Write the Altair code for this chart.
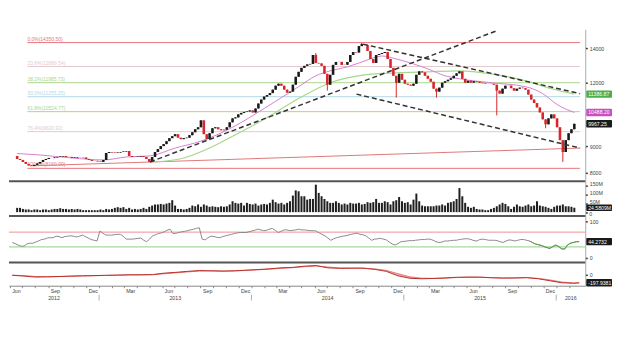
import altair as alt
import pandas as pd

FONT = "Liberation Sans"

# ---------------- data ----------------
week_start = "2012-06-07"
closes = [
    8511, 8473, 8398, 8324, 8269, 8250, 8287, 8342, 8398, 8473,
    8511, 8549, 8545, 8568, 8587, 8606, 8625, 8587, 8590, 8549,
    8568, 8587, 8580, 8568, 8511, 8473, 8436, 8440, 8417, 8398,
    8473, 8741, 8780, 8760, 8741, 8760, 8780, 8800, 8819, 8625,
    8587, 8590, 8606, 8625, 8587, 8511, 8398, 8587, 8780, 8898,
    9017, 9098, 9220, 9344, 9427, 9511, 9364, 9302, 9344, 9364,
    9469, 9596, 9725, 9812, 10122, 9511, 9302, 9554, 9768, 9812,
    9725, 9682, 9703, 9812, 10032, 10212, 10258, 10395, 10465, 10512,
    10535, 10582, 10488, 10676, 10916, 11112, 11261, 11337, 11438, 11617,
    11825, 11931, 11825, 11617, 11463, 11514, 11878, 12308, 12585, 12810,
    12925, 13011, 13040, 13572, 13098, 13069, 12925, 12473, 11878, 12418,
    12982, 13156, 13160, 12982, 12990, 13156, 13572, 13754, 13724, 14126,
    14252, 14189, 13816, 13333, 13098, 13572, 13633, 13693, 13754, 13333,
    12810, 12363, 11984, 12473, 12145, 11931, 11878, 11825, 11931, 12418,
    12612, 12556, 12363, 12199, 12037, 11669, 11514, 11721, 11984, 12064,
    12145, 12226, 12363, 12500, 12612, 12199, 11984, 12091, 11990, 12064,
    12037, 11984, 11957, 11931, 11935, 11925, 11878, 11566, 11412, 11669,
    11825, 11830, 11695, 11566, 11669, 11721, 11695, 11617, 11362, 11112,
    10940, 10724, 10488, 10167, 9943, 10212, 10395, 10212, 9812, 9261,
    8780, 9261, 9554, 9725, 9967.25,
]
first_open = 8625
wick_lows = {108: 11566, 132: 11211, 146: 11211, 167: 10349, 184: 9768, 190: 8398}
wick_highs = {104: 13693, 120: 14316}

volumes_m = [
    24, 24, 18, 15, 15, 11, 15, 15, 11, 15,
    15, 11, 15, 18, 18, 22, 18, 18, 15, 18,
    15, 18, 15, 11, 11, 11, 11, 11, 11, 15,
    11, 18, 15, 18, 24, 28, 24, 28, 18, 24,
    15, 18, 15, 18, 24, 18, 30, 37, 43, 43,
    46, 43, 48, 52, 67, 37, 18, 18, 15, 18,
    24, 37, 33, 43, 30, 43, 37, 30, 33, 30,
    28, 33, 30, 33, 43, 61, 52, 48, 52, 37,
    52, 46, 43, 48, 37, 43, 46, 43, 52, 70,
    56, 48, 52, 43, 52, 61, 93, 122, 117, 89,
    89, 70, 74, 74, 154, 108, 89, 74, 61, 52,
    52, 61, 52, 43, 48, 43, 52, 48, 48, 52,
    43, 46, 56, 52, 56, 74, 52, 52, 61, 56,
    43, 61, 67, 85, 61, 52, 56, 43, 70, 104,
    61, 37, 33, 33, 33, 33, 37, 37, 43, 37,
    52, 56, 61, 74, 135, 89, 52, 30, 24, 30,
    18, 15, 15, 11, 11, 18, 24, 33, 43, 52,
    46, 33, 18, 30, 43, 33, 30, 37, 43, 33,
    37, 61, 37, 33, 30, 24, 18, 30, 37, 37,
    43, 33, 33, 30, 24.5809,
]

rsi = [
    42, 39, 35, 32, 32, 38, 40, 40, 43, 46,
    50, 51, 54, 55, 55, 59, 58, 55, 58, 59,
    60, 59, 57, 59, 62, 58, 54, 50, 48, 46,
    73, 67, 62, 62, 62, 63, 64, 64, 59, 51,
    51, 51, 52, 53, 54, 48, 44, 51, 60, 63,
    66, 68, 71, 75, 78, 66, 67, 69, 71, 72,
    74, 76, 78, 80, 82, 51, 49, 55, 59, 58,
    56, 55, 58, 60, 62, 64, 66, 68, 69, 69,
    69, 71, 73, 75, 78, 76, 74, 75, 78, 80,
    75, 69, 72, 76, 76, 74, 75, 76, 78, 76,
    76, 75, 74, 74, 73, 68, 64, 60, 54, 48,
    52, 55, 57, 59, 60, 62, 64, 66, 67, 64,
    63, 60, 54, 48, 51, 52, 53, 51, 49, 43,
    38, 35, 39, 44, 45, 46, 47, 47, 48, 49,
    50, 50, 51, 51, 48, 44, 42, 43, 46, 46,
    47, 48, 48, 50, 51, 52, 52, 50, 47, 46,
    50, 51, 50, 48, 48, 48, 47, 44, 42, 46,
    49, 48, 46, 48, 50, 50, 48, 46, 42, 38,
    36, 34, 31, 28, 26, 31, 35, 31, 25, 24,
    35, 40, 42, 44, 44.2732,
]

macd_weeks = list(range(0, 193, 4)) + [194]
macd = [
    -19, -38, -62, -55, -48, -38, -31, -26, -19, -14,
    -7, -7, -2, 33, 52, 76, 95, 88, 81, 88,
    105, 119, 136, 160, 171, 200, 214, 160, 148, 152,
    152, 124, 76, -31, -90, -102, -95, -83, -67, -62,
    -64, -79, -86, -83, -74, -102, -150, -198, -210, -197.9381,
]
macd_signal = [
    -15, -28, -48, -54, -50, -42, -35, -29, -23, -17,
    -11, -8, -4, 18, 40, 62, 82, 88, 84, 86,
    98, 112, 128, 150, 164, 188, 205, 180, 158, 154,
    153, 135, 98, 20, -55, -88, -93, -87, -74, -66,
    -64, -74, -83, -83, -77, -93, -130, -180, -204, -205,
]

ma_fast_weeks = [0, 8, 19, 30, 38, 46, 55, 64, 75, 86, 98, 104, 109, 115, 121,
                 127, 132, 138, 143, 149, 154, 165, 177, 183, 188, 194]
ma_fast = [8722, 8664, 8549, 8473, 8587, 8625, 8937, 9220, 9812, 10676, 11773,
           12363, 12641, 12867, 13215, 13512, 13333, 13040, 12753, 12363, 12199,
           11984, 11773, 11412, 10868, 10488.20]
ma_slow_weeks = [48, 58, 67, 75, 86, 98, 109, 121, 132, 143, 154, 165, 177, 186, 194]
ma_slow = [8398, 8549, 8937, 9427, 10167, 11162, 11984, 12418, 12529, 12585,
           12641, 12473, 12091, 11669, 11386.87]

fib_names = ["0.0%", "23.6%", "38.2%", "50.0%", "61.8%", "76.4%", "100.0%"]
fib_values = [14350.50, 12889.54, 11985.73, 11255.25, 10524.77, 9620.92, 8160.00]
fib_from = "2012-07-02"
lines_to = "2016-03-10"

support_dates = ["2012-07-09", "2016-03-10"]
support_values = [8250, 8937]
dashed_start_dates = ["2013-04-27", "2014-09-28", "2014-09-12"]
dashed_start_values = [8398, 14252, 11387]
dashed_end_dates = ["2015-08-17", "2016-03-10", "2016-03-10"]
dashed_end_values = [15100, 11412, 8937]

years = [2012, 2013, 2014, 2015, 2016]

# ---------------- styles ----------------
UP, DOWN = "#1a1a1a", "#d7262b"
FIB_COLORS = ["#e8747c", "#e3c9cc", "#a9d68d", "#b3d8e6", "#a9d68d", "#e3c9cc", "#e8747c"]
W = 582
H1, H2, H3, H4 = 153, 35, 47, 24


def ms(s):
    return int(pd.Timestamp(s, tz="UTC").value // 10**6)


t0, t1 = ms("2012-05-30 04:00"), ms("2016-03-10 14:40")
xscale = alt.Scale(type="utc", domain=[t0, t1], nice=False)
dates = pd.date_range(week_start, periods=len(closes), freq="7D")
date_str = list(dates.strftime("%Y-%m-%d"))

opens = [first_open] + closes[:-1]
lows = [wick_lows.get(i, min(o, c)) for i, (o, c) in enumerate(zip(opens, closes))]
highs = [wick_highs.get(i, max(o, c)) for i, (o, c) in enumerate(zip(opens, closes))]
candles = pd.DataFrame({"date": date_str, "open": opens, "close": closes,
                        "low": lows, "high": highs})


def X(field="date", axis=None):
    return alt.X(f"{field}:T", scale=xscale, axis=axis)


def right_axis(values, **kw):
    return alt.Axis(orient="right", values=values, title=None, grid=False,
                    labelFontSize=5.3, labelColor="#444", labelFont=FONT,
                    tickSize=2, tickWidth=1.5, tickColor="#222",
                    domainColor="#aaa", labelPadding=2, **kw)


def boxes(values, texts, colors, yfn, h=7.5):
    out = []
    for v, t, c in zip(values, texts, colors):
        d = pd.DataFrame({"v": [v], "t": [t]})
        out.append(alt.Chart(d).mark_rect(color=c, height=h, cornerRadius=1).encode(
            x=alt.value(W + 1), x2=alt.value(W + 27), y=yfn("v:Q")))
        out.append(alt.Chart(d).mark_text(align="left", baseline="middle", color="white",
                                          fontSize=5.2, font=FONT).encode(
            x=alt.value(W + 3), y=yfn("v:Q"), text="t:N"))
    return out


def separator():
    return alt.Chart(pd.DataFrame({"a": [0]})).mark_rule(color="#555", strokeWidth=2).encode(
        x=alt.value(0), x2=alt.value(W), y=alt.value(0.5))


# ---------------- price panel ----------------
pscale = alt.Scale(type="log", domain=[7718, 15235], nice=False)
paxis = right_axis([8000, 9000, 12000, 14000], format="d")


def Yp(f):
    return alt.Y(f, scale=pscale, axis=paxis)


fib_df = pd.DataFrame({"level": fib_names, "value": fib_values,
                       "start": fib_from, "end": lines_to})
fib_df["label"] = [f"{n}({v:.2f})" for n, v in zip(fib_names, fib_values)]
fib_color = alt.Color("level:N", scale=alt.Scale(domain=fib_names, range=FIB_COLORS), legend=None)
fib_rules = alt.Chart(fib_df).mark_rule(strokeWidth=1).encode(
    x=X("start"), x2="end:T", y=Yp("value:Q"), color=fib_color)
fib_text = alt.Chart(fib_df).mark_text(align="left", baseline="bottom", dy=-1,
                                       fontSize=5, font=FONT).encode(
    x=X("start"), y=Yp("value:Q"), text="label:N", color=fib_color)

sup_df = pd.DataFrame({"s": [support_dates[0]], "e": [support_dates[1]],
                       "v0": [support_values[0]], "v1": [support_values[1]]})
support = alt.Chart(sup_df).mark_rule(color="#e07878", strokeWidth=1).encode(
    x=X("s"), x2="e:T", y=Yp("v0:Q"), y2="v1:Q")

fast_df = pd.DataFrame({"date": [date_str[i] for i in ma_fast_weeks], "v": ma_fast})
slow_df = pd.DataFrame({"date": [date_str[i] for i in ma_slow_weeks], "v": ma_slow})
fast_line = alt.Chart(fast_df).mark_line(color="#d77fd0", strokeWidth=1, interpolate="monotone").encode(
    x=X(), y=Yp("v:Q"))
slow_line = alt.Chart(slow_df).mark_line(color="#a6d88c", strokeWidth=1.2, interpolate="monotone").encode(
    x=X(), y=Yp("v:Q"))

cond = alt.condition("datum.close >= datum.open", alt.value(UP), alt.value(DOWN))
wicks = alt.Chart(candles).mark_rule(strokeWidth=1).encode(
    x=X(), y=Yp("low:Q"), y2="high:Q", color=cond)
bodies = alt.Chart(candles).mark_bar(width=2.6).encode(
    x=X(), y=Yp("open:Q"), y2="close:Q", color=cond)

dash_df = pd.DataFrame({"s": dashed_start_dates, "e": dashed_end_dates,
                        "v0": dashed_start_values, "v1": dashed_end_values})
dashed = alt.Chart(dash_df).mark_rule(color="#333", strokeWidth=1.5, strokeDash=[5, 3]).encode(
    x=X("s"), x2="e:T", y=Yp("v0:Q"), y2="v1:Q")

price_boxes = boxes([ma_slow[-1], ma_fast[-1], closes[-1]],
                    [f"{ma_slow[-1]:.2f}", f"{ma_fast[-1]:.2f}", f"{closes[-1]:.2f}"],
                    ["#4cae4c", "#c850c0", "#1a1a1a"], Yp)

price = alt.layer(fib_rules, fib_text, support, slow_line, fast_line, wicks, bodies,
                  dashed, *price_boxes).resolve_scale(color="independent").properties(
    width=W, height=H1)

# ---------------- volume panel ----------------
vscale = alt.Scale(domain=[-18.3, 176], nice=False, zero=False)
vaxis = right_axis([0, 50, 100, 150], labelOffset=-1.5,
                   labelExpr="datum.value == 0 ? '' : datum.value + 'M'")


def Yv(f):
    return alt.Y(f, scale=vscale, axis=vaxis)


vol_df = pd.DataFrame({"date": date_str, "vol": volumes_m})
vol_bars = alt.Chart(vol_df).mark_bar(width=2, color="#1f1f1f").encode(
    x=X(), y=Yv("vol:Q"), y2=alt.datum(0))
vol_boxes = boxes([volumes_m[-1]], [f"{volumes_m[-1]:.4f}M"], ["#1a1a1a"], Yv, h=6.5)
zero_lbl = alt.Chart(pd.DataFrame({"v": [0], "t": ["0"]})).mark_text(
    align="left", baseline="top", dy=-0.3, fontSize=5.3, font=FONT, color="#444").encode(
    x=alt.value(W + 4), y=Yv("v:Q"), text="t:N")
volume = alt.layer(vol_bars, separator(), *vol_boxes, zero_lbl).properties(width=W, height=H2)

# ---------------- RSI panel ----------------
rscale = alt.Scale(domain=[-10.7, 115.3], nice=False, zero=False)
raxis = right_axis([0, 100])


def Yr(f):
    return alt.Y(f, scale=rscale, axis=raxis)


rsi_df = pd.DataFrame({"date": date_str, "rsi": rsi})
ob = alt.Chart(pd.DataFrame({"v": [70]})).mark_rule(color="#f09090", strokeWidth=1).encode(y=Yr("v:Q"))
os_ = alt.Chart(pd.DataFrame({"v": [30]})).mark_rule(color="#8ccf7e", strokeWidth=1).encode(y=Yr("v:Q"))
rsi_line = alt.Chart(rsi_df).mark_line(color="#8a8a8a", strokeWidth=1).encode(x=X(), y=Yr("rsi:Q"))
rsi_low = alt.Chart(rsi_df.iloc[177:]).mark_line(color="#5a9e46", strokeWidth=1).encode(
    x=X(), y=Yr("rsi:Q"))
rsi_boxes = boxes([rsi[-1]], [f"{rsi[-1]:.4f}"], ["#1a1a1a"], Yr)
rsi_panel = alt.layer(ob, os_, rsi_line, rsi_low, separator(), *rsi_boxes).properties(
    width=W, height=H3)

# ---------------- MACD panel ----------------
mscale = alt.Scale(domain=[-269, 302], nice=False, zero=False)
maxis = right_axis([0])
month_ticks = [ms(d) for d in pd.date_range("2012-06-01", "2016-02-01", freq="MS")]
xaxis = alt.Axis(values=month_ticks,
                 labelExpr="utcmonth(datum.value) % 3 == 2 ? utcFormat(datum.value, '%b') : ''",
                 labelAlign="left", labelOffset=2, labelFontSize=5.3, labelColor="#444",
                 labelFont=FONT, tickSize=2, tickColor="#888", domainColor="#888",
                 labelPadding=0.5, grid=False, title=None, labelOverlap=False, labelFlush=False)


def Ym(f):
    return alt.Y(f, scale=mscale, axis=maxis)


macd_df = pd.DataFrame({"date": [date_str[i] for i in macd_weeks], "m": macd, "s": macd_signal})
macd_fill = alt.Chart(macd_df).mark_area(color="#f2a4a4", opacity=0.9).encode(
    x=X(axis=xaxis), y=Ym("m:Q"), y2="s:Q")
macd_sig = alt.Chart(macd_df).mark_line(color="#e87a7a", strokeWidth=1).encode(
    x=X(axis=xaxis), y=Ym("s:Q"))
macd_line = alt.Chart(macd_df).mark_line(color="#b8312a", strokeWidth=1).encode(
    x=X(axis=xaxis), y=Ym("m:Q"))

year_mid = []
for y in years:
    a = max(ms(f"{y}-01-01"), t0)
    b = min(ms(f"{y + 1}-01-01"), t1)
    year_mid.append((a + b) // 2)
year_df = pd.DataFrame({"t": year_mid, "label": [str(y) for y in years]})
year_text = alt.Chart(year_df).mark_text(fontSize=5.3, font=FONT, color="#444", baseline="middle").encode(
    x=alt.X("t:T", scale=xscale, axis=xaxis), y=alt.value(H4 + 12), text="label:N")
sep_df = pd.DataFrame({"t": [ms(f"{y}-01-01") for y in years[1:]]})
year_sep = alt.Chart(sep_df).mark_rule(color="#999", strokeWidth=0.8).encode(
    x=alt.X("t:T", scale=xscale, axis=xaxis), y=alt.value(H4 + 9), y2=alt.value(H4 + 15))
macd_boxes = boxes([macd[-1]], [f"{macd[-1]:.4f}"], ["#1a1a1a"], Ym)

macd_panel = alt.layer(macd_fill, macd_sig, macd_line, year_text, year_sep, separator(),
                       *macd_boxes).properties(width=W, height=H4)

chart = alt.vconcat(price, volume, rsi_panel, macd_panel, spacing=0, bounds="flush").resolve_scale(
    x="independent", y="independent").properties(
    padding={"left": 0, "top": 20, "right": 0, "bottom": 0}, background="white"
).configure_view(stroke=None)

chart.save("out.html", embed_options={"renderer": "svg", "actions": False})
